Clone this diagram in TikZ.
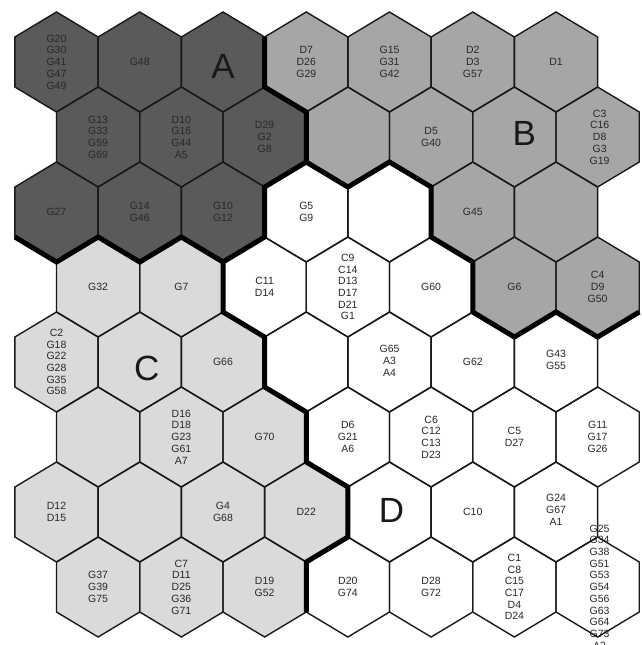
\documentclass[tikz,border=0pt]{standalone}
\usepackage{fontspec}
\setmainfont{Liberation Sans}
\definecolor{regA}{RGB}{90,90,90}
\definecolor{regB}{RGB}{166,166,166}
\definecolor{regC}{RGB}{218,218,218}
\definecolor{regD}{RGB}{255,255,255}
\definecolor{txt}{RGB}{40,40,40}
\tikzset{
  hexline/.style={draw=black!90, line width=1.4pt, line join=miter},
  border/.style={draw=black, line width=5pt, line join=miter},
  lbl/.style={align=center, text=txt, font=\fontsize{10.5}{11.7}\selectfont, inner sep=0pt},
  big/.style={text=black!90, font=\fontsize{35}{35}\selectfont, inner sep=0pt},
}
\begin{document}
\begin{tikzpicture}[x=1pt,y=-1pt]
\useasboundingbox (0,0) rectangle (642,645);
\fill[white] (0,0) rectangle (642,645);
% centres and vertices
\foreach \r in {0,...,7}{
  \foreach \c in {0,...,6}{
    \pgfmathsetmacro\hx{56.5+83.25*\c+41.625*mod(\r,2)}
    \pgfmathsetmacro\hy{62+75*\r}
    \coordinate (c-\r-\c) at (\hx,\hy);
    \coordinate (v-\r-\c-0) at (\hx,{\hy-50});
    \coordinate (v-\r-\c-1) at ({\hx+41.625},{\hy-25});
    \coordinate (v-\r-\c-2) at ({\hx+41.625},{\hy+25});
    \coordinate (v-\r-\c-3) at (\hx,{\hy+50});
    \coordinate (v-\r-\c-4) at ({\hx-41.625},{\hy+25});
    \coordinate (v-\r-\c-5) at ({\hx-41.625},{\hy-25});
  }
}
% fills
\foreach \r/\lst in {0/{A,A,A,B,B,B,B},1/{A,A,A,B,B,B,B},2/{A,A,A,D,D,B,B},3/{C,C,D,D,D,B,B},4/{C,C,C,D,D,D,D},5/{C,C,C,D,D,D,D},6/{C,C,C,C,D,D,D},7/{C,C,C,D,D,D,D}}{
  \foreach \g [count=\ci from 0] in \lst {
    \fill[fill=reg\g] (v-\r-\ci-0) -- (v-\r-\ci-1) -- (v-\r-\ci-2) -- (v-\r-\ci-3) -- (v-\r-\ci-4) -- (v-\r-\ci-5) -- cycle;
  }
}
% labels
\node[lbl] (t-0-0) at (c-0-0) {G20\\G30\\G41\\G47\\G49};
\node[lbl] (t-0-1) at (c-0-1) {G48};
\node[big] (t-0-2) at ([shift={(0,4)}]c-0-2) {A};
\node[lbl] (t-0-3) at (c-0-3) {D7\\D26\\G29};
\node[lbl] (t-0-4) at (c-0-4) {G15\\G31\\G42};
\node[lbl] (t-0-5) at (c-0-5) {D2\\D3\\G57};
\node[lbl] (t-0-6) at (c-0-6) {D1};
\node[lbl] (t-1-0) at (c-1-0) {G13\\G33\\G59\\G69};
\node[lbl] (t-1-1) at (c-1-1) {D10\\G16\\G44\\A5};
\node[lbl] (t-1-2) at (c-1-2) {D29\\G2\\G8};
\node[lbl] (t-1-4) at (c-1-4) {D5\\G40};
\node[big] (t-1-5) at ([shift={(10,-4)}]c-1-5) {B};
\node[lbl] (t-1-6) at ([shift={(2,0)}]c-1-6) {C3\\C16\\D8\\G3\\G19};
\node[lbl] (t-2-0) at (c-2-0) {G27};
\node[lbl] (t-2-1) at (c-2-1) {G14\\G46};
\node[lbl] (t-2-2) at (c-2-2) {G10\\G12};
\node[lbl] (t-2-3) at (c-2-3) {G5\\G9};
\node[lbl] (t-2-5) at (c-2-5) {G45};
\node[lbl] (t-3-0) at (c-3-0) {G32};
\node[lbl] (t-3-1) at (c-3-1) {G7};
\node[lbl] (t-3-2) at (c-3-2) {C11\\D14};
\node[lbl] (t-3-3) at (c-3-3) {C9\\C14\\D13\\D17\\D21\\G1};
\node[lbl] (t-3-4) at (c-3-4) {G60};
\node[lbl] (t-3-5) at (c-3-5) {G6};
\node[lbl] (t-3-6) at (c-3-6) {C4\\D9\\G50};
\node[lbl] (t-4-0) at (c-4-0) {C2\\G18\\G22\\G28\\G35\\G58};
\node[big] (t-4-1) at ([shift={(7,6)}]c-4-1) {C};
\node[lbl] (t-4-2) at (c-4-2) {G66};
\node[lbl] (t-4-4) at ([shift={(0,-1)}]c-4-4) {G65\\A3\\A4};
\node[lbl] (t-4-5) at (c-4-5) {G62};
\node[lbl] (t-4-6) at ([shift={(0,-2)}]c-4-6) {G43\\G55};
\node[lbl] (t-5-1) at (c-5-1) {D16\\D18\\G23\\G61\\A7};
\node[lbl] (t-5-2) at (c-5-2) {G70};
\node[lbl] (t-5-3) at (c-5-3) {D6\\G21\\A6};
\node[lbl] (t-5-4) at (c-5-4) {C6\\C12\\C13\\D23};
\node[lbl] (t-5-5) at (c-5-5) {C5\\D27};
\node[lbl] (t-5-6) at (c-5-6) {G11\\G17\\G26};
\node[lbl] (t-6-0) at (c-6-0) {D12\\D15};
\node[lbl] (t-6-2) at (c-6-2) {G4\\G68};
\node[lbl] (t-6-3) at (c-6-3) {D22};
\node[big] (t-6-4) at ([shift={(2,-2)}]c-6-4) {D};
\node[lbl] (t-6-5) at (c-6-5) {C10};
\node[lbl] (t-6-6) at ([shift={(0,-2)}]c-6-6) {G24\\G67\\A1};
\node[lbl] (t-7-0) at (c-7-0) {G37\\G39\\G75};
\node[lbl] (t-7-1) at (c-7-1) {C7\\D11\\D25\\G36\\G71};
\node[lbl] (t-7-2) at (c-7-2) {D19\\G52};
\node[lbl] (t-7-3) at (c-7-3) {D20\\G74};
\node[lbl] (t-7-4) at (c-7-4) {D28\\G72};
\node[lbl] (t-7-5) at (c-7-5) {C1\\C8\\C15\\C17\\D4\\D24};
\node[lbl] (t-7-6) at ([shift={(2,0)}]c-7-6) {G25\\G34\\G38\\G51\\G53\\G54\\G56\\G63\\G64\\G73\\A2};
% thin outlines
\foreach \r in {0,...,7}{
  \foreach \c in {0,...,6}{
    \draw[hexline] (v-\r-\c-0) -- (v-\r-\c-1) -- (v-\r-\c-2) -- (v-\r-\c-3) -- (v-\r-\c-4) -- (v-\r-\c-5) -- cycle;
  }
}
% thick cluster borders
\draw[border] (v-0-2-1) -- (v-0-2-2) -- (v-0-3-3) -- (v-1-2-2) -- (v-1-3-3) -- (v-1-3-2) -- (v-1-4-3) -- (v-2-4-2) -- (v-2-5-3) -- (v-3-4-2) -- (v-3-5-3) -- (v-3-5-2) -- (v-3-6-3) -- (v-3-6-2);
\draw[border] (v-1-2-2) -- (v-1-2-3) -- (v-2-2-2) -- (v-2-2-3) -- (v-3-1-2) -- (v-3-2-3) -- (v-4-2-2) -- (v-4-3-3) -- (v-5-2-2) -- (v-5-3-3) -- (v-6-3-2) -- (v-6-3-3) -- (v-7-2-2);
\draw[border] (v-2-0-4) -- (v-2-0-3) -- (v-2-0-2) -- (v-2-1-3) -- (v-2-1-2) -- (v-2-2-3);
\end{tikzpicture}
\end{document}
